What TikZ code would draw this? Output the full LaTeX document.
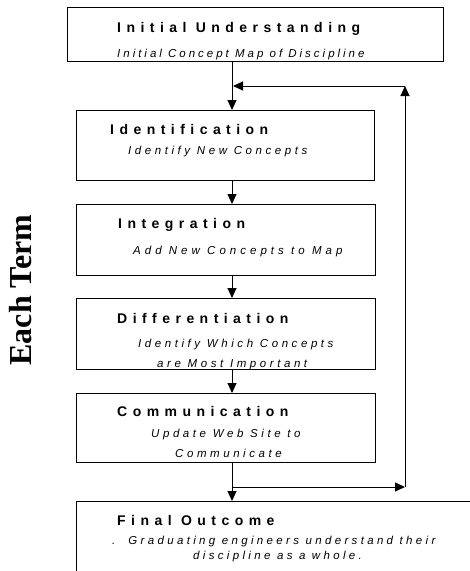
\documentclass[tikz,border=0pt]{standalone}
\usepackage{fontspec}
\setmainfont{Liberation Sans}
\newfontfamily\ttlfont[LetterSpace=39]{Liberation Sans}
\newfontfamily\subfont[LetterSpace=31]{Liberation Sans}
\newfontfamily\subfontB[LetterSpace=26]{Liberation Sans}
\newfontfamily\subfontC[LetterSpace=35]{Liberation Sans}
\newfontfamily\subfontD[LetterSpace=29]{Liberation Sans}
\newfontfamily\sidefont{Liberation Serif}
\usetikzlibrary{arrows.meta}
\tikzset{
  stepbox/.style={draw, line width=1pt, inner sep=0pt, anchor=north west},
  ttl/.style={anchor=base west, inner sep=0pt, font=\ttlfont\bfseries\fontsize{14}{16}\selectfont},
  subt/.style={anchor=base west, inner sep=0pt, font=\subfont\itshape\fontsize{11.5}{13}\selectfont},
  subtB/.style={anchor=base west, inner sep=0pt, font=\subfontB\itshape\fontsize{11.5}{13}\selectfont},
  subtC/.style={anchor=base west, inner sep=0pt, font=\subfontC\itshape\fontsize{11.5}{13}\selectfont},
  subtD/.style={anchor=base west, inner sep=0pt, font=\subfontD\itshape\fontsize{11.5}{13}\selectfont},
  arr/.style={line width=1pt, -{Triangle[width=9pt,length=10pt]}},
}
\begin{document}
\begin{tikzpicture}[x=1pt,y=-1pt]
\useasboundingbox (0,0) rectangle (470,571);
\clip (0,0) rectangle (470,571);
% boxes
\node[stepbox, minimum width=376pt, minimum height=54pt] (b0) at (67,7) {};
\node[stepbox, minimum width=298pt, minimum height=70pt] (b1) at (76,110) {};
\node[stepbox, minimum width=299pt, minimum height=71pt] (b2) at (76,204) {};
\node[stepbox, minimum width=299pt, minimum height=71pt] (b3) at (76,298) {};
\node[stepbox, minimum width=299pt, minimum height=69pt] (b4) at (76,393) {};
\node[stepbox, minimum width=420pt, minimum height=100pt] (b5) at (76,501) {};
% texts
\node[ttl] (t0) at (117,32.5) {Initial Understanding};
\node[subtB] (s0) at (117,57) {Initial Concept Map of Discipline};
\node[ttl] (t1) at (110,134.5) {Identification};
\node[subt] (s1) at (128,154.5) {Identify New Concepts};
\node[ttl] (t2) at (118,228.5) {Integration};
\node[subtC] (s2) at (133,254) {Add New Concepts to Map};
\node[ttl] (t3) at (117,323) {Differentiation};
\node[subt] (s3a) at (138,347) {Identify Which Concepts};
\node[subt] (s3b) at (157,367) {are Most Important};
\node[ttl] (t4) at (117,416.5) {Communication};
\node[subt] (s4a) at (151,437) {Update Web Site to};
\node[subt] (s4b) at (175,457) {Communicate};
\node[ttl] (t5) at (117,525.5) {Final Outcome};
\node[subtD] (s5a) at (112,544) {.\ \ Graduating engineers understand their};
\node[subtD] (s5b) at (193,559) {discipline as a whole.};
% side label
\node[rotate=90, inner sep=0pt, font=\sidefont\bfseries\fontsize{32}{36}\selectfont] (side) at (21,290) {Each Term};
% connectors
\coordinate (ax) at (232,0);
\coordinate (loopR) at (405,487);
\coordinate (loopT) at (405,86);
\coordinate (loopL) at (233,86);
\coordinate (split) at (232,487);
\draw[arr] (b0.south -| ax) -- (b1.north -| ax);
\draw[arr] (b1.south -| ax) -- (b2.north -| ax);
\draw[arr] (b2.south -| ax) -- (b3.north -| ax);
\draw[arr] (b3.south -| ax) -- (b4.north -| ax);
\draw[arr] (b4.south -| ax) -- (b5.north -| ax);
\draw[arr] (split) -- (loopR);
\draw[arr] (loopR) -- (loopT);
\draw[arr] (loopT) -- (loopL);
\end{tikzpicture}
\end{document}
